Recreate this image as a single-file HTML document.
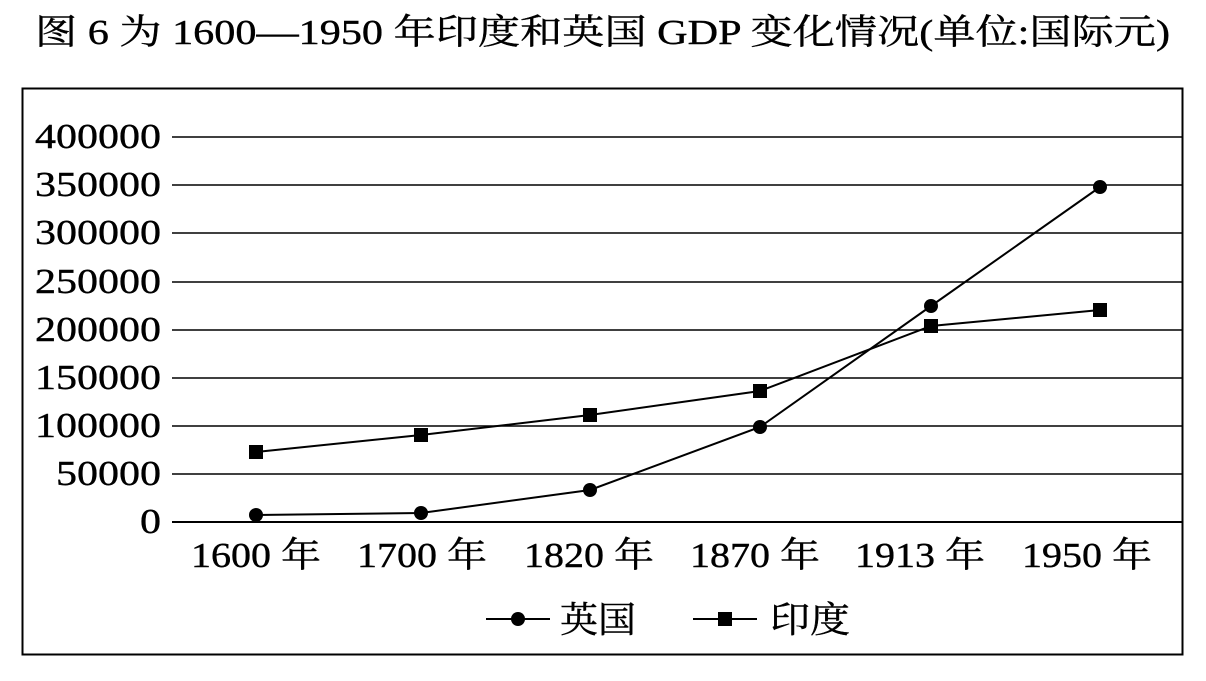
<!DOCTYPE html>
<html><head><meta charset="utf-8"><style>
body{margin:0;background:#fff;width:1206px;height:676px;overflow:hidden}
svg text{font-family:"Liberation Serif","Noto Serif CJK SC",serif;fill:#000;stroke:#000;stroke-width:0.4}
</style></head><body>
<svg width="1206" height="676" viewBox="0 0 1206 676">
<text x="35" y="44" font-size="35" textLength="1135" lengthAdjust="spacingAndGlyphs">图 6 为 1600—1950 年印度和英国 GDP 变化情况(单位:国际元)</text>
<rect x="22.5" y="88.5" width="1160" height="566" fill="none" stroke="#000" stroke-width="2"/>
<g stroke="#000" stroke-width="1.5">
<line x1="172" x2="1183" y1="137" y2="137"/><line x1="172" x2="1183" y1="185" y2="185"/>
<line x1="172" x2="1183" y1="233" y2="233"/><line x1="172" x2="1183" y1="282" y2="282"/>
<line x1="172" x2="1183" y1="330" y2="330"/><line x1="172" x2="1183" y1="378" y2="378"/>
<line x1="172" x2="1183" y1="426" y2="426"/><line x1="172" x2="1183" y1="474" y2="474"/>
<line x1="172" x2="1183" y1="522" y2="522" stroke-width="2"/>
</g>
<g font-size="35">
<text x="35" y="148" textLength="126" lengthAdjust="spacingAndGlyphs">400000</text>
<text x="35" y="196" textLength="126" lengthAdjust="spacingAndGlyphs">350000</text>
<text x="35" y="244" textLength="126" lengthAdjust="spacingAndGlyphs">300000</text>
<text x="35" y="293" textLength="126" lengthAdjust="spacingAndGlyphs">250000</text>
<text x="35" y="341" textLength="126" lengthAdjust="spacingAndGlyphs">200000</text>
<text x="35" y="389" textLength="126" lengthAdjust="spacingAndGlyphs">150000</text>
<text x="35" y="437" textLength="126" lengthAdjust="spacingAndGlyphs">100000</text>
<text x="56" y="485" textLength="105" lengthAdjust="spacingAndGlyphs">50000</text>
<text x="140" y="533" textLength="21" lengthAdjust="spacingAndGlyphs">0</text>
</g>
<g font-size="35">
<text x="191" y="567" textLength="130" lengthAdjust="spacingAndGlyphs">1600 年</text>
<text x="357" y="567" textLength="130" lengthAdjust="spacingAndGlyphs">1700 年</text>
<text x="524" y="567" textLength="130" lengthAdjust="spacingAndGlyphs">1820 年</text>
<text x="690" y="567" textLength="130" lengthAdjust="spacingAndGlyphs">1870 年</text>
<text x="855" y="567" textLength="130" lengthAdjust="spacingAndGlyphs">1913 年</text>
<text x="1022" y="567" textLength="130" lengthAdjust="spacingAndGlyphs">1950 年</text>
</g>
<polyline points="256,515 421,513 590,490 760,427 931,306 1100,187" fill="none" stroke="#000" stroke-width="2"/>
<polyline points="256,452 421,435 590,415 760,391 931,326 1100,310" fill="none" stroke="#000" stroke-width="2"/>
<g fill="#000">
<circle cx="256" cy="515" r="7"/><circle cx="421" cy="513" r="7"/><circle cx="590" cy="490" r="7"/>
<circle cx="760" cy="427" r="7"/><circle cx="931" cy="306" r="7"/><circle cx="1100" cy="187" r="7"/>
<rect x="249" y="445" width="14" height="14"/><rect x="414" y="428" width="14" height="14"/>
<rect x="583" y="408" width="14" height="14"/><rect x="753" y="384" width="14" height="14"/>
<rect x="924" y="319" width="14" height="14"/><rect x="1093" y="303" width="14" height="14"/>
</g>
<line x1="486" x2="550" y1="619" y2="619" stroke="#000" stroke-width="2"/>
<circle cx="518" cy="619" r="7"/>
<text x="560" y="632" font-size="36" textLength="76" lengthAdjust="spacingAndGlyphs">英国</text>
<line x1="693" x2="757" y1="619" y2="619" stroke="#000" stroke-width="2"/>
<rect x="718" y="612" width="14" height="14"/>
<text x="770" y="632" font-size="36" textLength="80" lengthAdjust="spacingAndGlyphs">印度</text>
</svg>
</body></html>
